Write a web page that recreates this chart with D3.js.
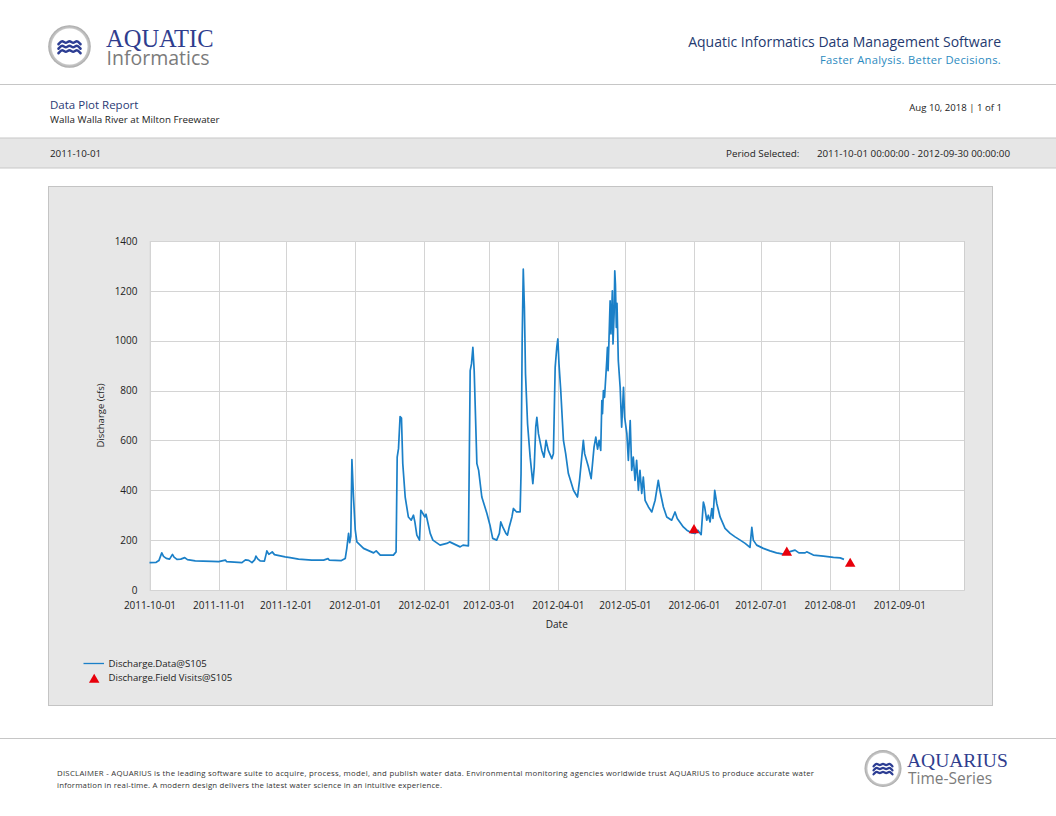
<!DOCTYPE html>
<html>
<head>
<meta charset="utf-8">
<script src="https://cdn.jsdelivr.net/npm/d3@7"></script>
<style>
  html, body { margin: 0; padding: 0; background: #ffffff; }
  svg { display: block; }
  text { font-family: "Open Sans", "Noto Sans", sans-serif; }
</style>
</head>
<body>
<script>
// ---------------- DATA ----------------
const dischargeSeries = [
  ["2011-10-01 00:00",110],["2011-10-04 00:00",111],["2011-10-05 05:00",118],["2011-10-06 12:00",149],
  ["2011-10-07 07:00",135],["2011-10-08 12:00",127],["2011-10-10 00:00",124],["2011-10-11 07:00",143],
  ["2011-10-12 00:00",132],["2011-10-13 07:00",123],["2011-10-15 00:00",124],["2011-10-16 19:00",130],
  ["2011-10-18 00:00",122],["2011-10-21 12:00",117],["2011-10-25 00:00",116],["2011-10-29 00:00",115],
  ["2011-11-01 00:00",114],["2011-11-04 00:00",120],["2011-11-04 12:00",114],["2011-11-08 00:00",112],
  ["2011-11-11 10:00",110],["2011-11-13 00:00",121],["2011-11-14 12:00",119],["2011-11-15 22:00",110],
  ["2011-11-17 05:00",122],["2011-11-17 17:00",136],["2011-11-18 12:00",125],["2011-11-19 14:00",117],
  ["2011-11-21 12:00",116],["2011-11-22 07:00",145],["2011-11-22 14:00",157],["2011-11-23 12:00",143],
  ["2011-11-25 00:00",153],["2011-11-26 00:00",142],["2011-11-27 00:00",140],["2011-11-30 19:00",133],
  ["2011-12-03 00:00",130],["2011-12-06 19:00",124],["2011-12-12 17:00",120],["2011-12-18 00:00",120],
  ["2011-12-20 00:00",126],["2011-12-20 12:00",120],["2011-12-26 00:00",118],["2011-12-27 17:00",126],
  ["2011-12-28 10:00",167],["2011-12-29 05:00",227],["2011-12-29 17:00",190],["2011-12-30 05:00",215],
  ["2011-12-30 17:00",523],["2011-12-31 10:00",373],["2012-01-01 05:00",240],["2012-01-01 22:00",193],
  ["2012-01-04 22:00",167],["2012-01-09 10:00",149],["2012-01-10 14:00",157],["2012-01-12 10:00",140],
  ["2012-01-18 07:00",140],["2012-01-19 12:00",153],["2012-01-20 00:00",533],["2012-01-20 14:00",567],
  ["2012-01-21 07:00",696],["2012-01-21 22:00",690],["2012-01-22 12:00",507],["2012-01-23 14:00",373],
  ["2012-01-25 00:00",293],["2012-01-26 07:00",280],["2012-01-27 07:00",300],["2012-01-27 22:00",273],
  ["2012-01-28 19:00",220],["2012-01-30 00:00",200],["2012-01-30 14:00",320],["2012-01-31 12:00",307],
  ["2012-02-01 10:00",293],["2012-02-01 22:00",304],["2012-02-03 19:00",227],["2012-02-05 00:00",200],
  ["2012-02-08 05:00",180],["2012-02-11 05:00",187],["2012-02-12 12:00",193],["2012-02-17 05:00",173],
  ["2012-02-18 12:00",180],["2012-02-20 22:00",177],["2012-02-21 17:00",880],["2012-02-22 07:00",907],
  ["2012-02-22 22:00",973],["2012-02-23 12:00",880],["2012-02-24 17:00",507],["2012-02-25 12:00",480],
  ["2012-02-26 22:00",373],["2012-02-29 05:00",307],["2012-03-01 14:00",260],["2012-03-02 19:00",207],
  ["2012-03-04 14:00",200],["2012-03-05 19:00",227],["2012-03-06 10:00",273],["2012-03-07 07:00",253],
  ["2012-03-08 17:00",227],["2012-03-09 10:00",220],["2012-03-10 05:00",253],["2012-03-11 10:00",293],
  ["2012-03-12 02:00",327],["2012-03-13 12:00",313],["2012-03-15 02:00",313],["2012-03-15 12:00",467],
  ["2012-03-16 00:00",1000],["2012-03-16 12:00",1287],["2012-03-17 00:00",1133],["2012-03-17 12:00",867],
  ["2012-03-18 10:00",667],["2012-03-19 14:00",533],["2012-03-20 19:00",427],["2012-03-21 10:00",493],
  ["2012-03-22 02:00",653],["2012-03-22 14:00",693],["2012-03-23 07:00",627],["2012-03-24 19:00",560],
  ["2012-03-25 19:00",533],["2012-03-26 17:00",600],["2012-03-27 17:00",560],["2012-03-29 07:00",527],
  ["2012-03-30 00:00",547],["2012-03-30 19:00",893],["2012-03-31 12:00",973],["2012-04-01 00:00",1007],
  ["2012-04-01 12:00",907],["2012-04-02 07:00",800],["2012-04-03 12:00",600],["2012-04-04 12:00",547],
  ["2012-04-05 17:00",467],["2012-04-08 00:00",400],["2012-04-09 19:00",373],["2012-04-10 17:00",440],
  ["2012-04-11 17:00",533],["2012-04-12 10:00",600],["2012-04-13 00:00",547],["2012-04-14 17:00",493],
  ["2012-04-15 22:00",447],["2012-04-17 05:00",573],["2012-04-18 00:00",613],["2012-04-18 19:00",565],
  ["2012-04-19 12:00",600],["2012-04-20 05:00",560],["2012-04-20 17:00",760],["2012-04-21 00:00",707],
  ["2012-04-21 10:00",800],["2012-04-21 22:00",773],["2012-04-22 22:00",920],["2012-04-23 05:00",973],
  ["2012-04-23 12:00",880],["2012-04-24 10:00",1160],["2012-04-24 19:00",1027],["2012-04-25 10:00",1200],
  ["2012-04-25 17:00",987],["2012-04-26 05:00",1107],["2012-04-26 12:00",1280],["2012-04-26 19:00",1227],
  ["2012-04-27 05:00",1053],["2012-04-27 12:00",1150],["2012-04-28 02:00",920],["2012-04-28 22:00",813],
  ["2012-04-29 14:00",653],["2012-04-30 10:00",813],["2012-04-30 22:00",693],["2012-05-01 22:00",627],
  ["2012-05-02 14:00",520],["2012-05-03 10:00",680],["2012-05-04 02:00",480],["2012-05-04 19:00",533],
  ["2012-05-05 14:00",440],["2012-05-06 07:00",520],["2012-05-07 02:00",400],["2012-05-07 19:00",480],
  ["2012-05-08 14:00",387],["2012-05-09 07:00",453],["2012-05-10 02:00",360],["2012-05-11 14:00",333],
  ["2012-05-13 02:00",313],["2012-05-14 14:00",360],["2012-05-16 00:00",440],["2012-05-16 17:00",400],
  ["2012-05-18 07:00",333],["2012-05-19 19:00",293],["2012-05-22 00:00",280],["2012-05-23 12:00",313],
  ["2012-05-24 12:00",287],["2012-05-27 05:00",253],["2012-05-28 19:00",240],["2012-05-31 00:00",229],
  ["2012-06-01 14:00",227],["2012-06-02 17:00",240],["2012-06-04 05:00",222],["2012-06-05 05:00",353],
  ["2012-06-05 19:00",333],["2012-06-06 17:00",280],["2012-06-07 10:00",300],["2012-06-08 05:00",273],
  ["2012-06-09 00:00",327],["2012-06-09 12:00",287],["2012-06-10 07:00",400],["2012-06-11 05:00",347],
  ["2012-06-12 17:00",293],["2012-06-14 22:00",247],["2012-06-17 05:00",227],["2012-06-19 10:00",213],
  ["2012-06-21 17:00",200],["2012-06-23 22:00",187],["2012-06-26 02:00",171],["2012-06-26 22:00",251],
  ["2012-06-27 14:00",200],["2012-06-29 02:00",180],["2012-07-02 02:00",167],["2012-07-05 02:00",157],
  ["2012-07-08 00:00",149],["2012-07-11 00:00",144],["2012-07-12 12:00",150],["2012-07-16 07:00",160],
  ["2012-07-18 00:00",149],["2012-07-20 19:00",149],["2012-07-21 12:00",153],["2012-07-24 12:00",140],
  ["2012-07-29 00:00",136],["2012-08-02 12:00",131],["2012-08-05 12:00",129],["2012-08-07 05:00",123]
];
const fieldVisitDates  = ["2012-06-01 00:00", "2012-07-12 14:00", "2012-08-10 00:00"];
const fieldVisitValues = [240, 150, 105];

const yTickValues = [0, 200, 400, 600, 800, 1000, 1200, 1400];
const xTickLabels = ["2011-10-01","2011-11-01","2011-12-01","2012-01-01","2012-02-01","2012-03-01",
                     "2012-04-01","2012-05-01","2012-06-01","2012-07-01","2012-08-01","2012-09-01"];
const periodStart = "2011-10-01 00:00";
const periodEnd   = "2012-09-30 00:00";
const legendLabels = ["Discharge.Data@S105", "Discharge.Field Visits@S105"];

// ---------------- DRAW ----------------
const W = 1056, H = 816;
const parseT = d3.timeParse("%Y-%m-%d %H:%M");
const parseD = d3.timeParse("%Y-%m-%d");
const svg = d3.select("body").append("svg").attr("width", W).attr("height", H);

const navy = "#2a3a75";

// logos
const ringGrad = svg.append("defs").append("radialGradient").attr("id","ring");
ringGrad.append("stop").attr("offset","80%").attr("stop-color","#d8d8d8");
ringGrad.append("stop").attr("offset","100%").attr("stop-color","#a9a9a9");
const waveLine = d3.line().curve(d3.curveBasis);
function wave(cx, cy, w, amp, n) {
  const pts = d3.range(0, n + 1).map(i => [cx - w/2 + i * w / n, cy + (i % 2 ? -amp : amp)]);
  return waveLine(pts);
}
function drawLogoMark(cx, cy, r, inner, ww, amp, sw, gap) {
  const g = svg.append("g").attr("transform", `translate(${cx},${cy})`);
  g.append("circle").attr("r", r).attr("fill", "url(#ring)");
  g.append("circle").attr("r", inner).attr("fill", "#ffffff");
  [-gap, 0, gap].forEach(dy => {
    g.append("path").attr("d", wave(0, dy, ww, amp, 6))
      .attr("fill", "none").attr("stroke", "#2c3d93").attr("stroke-width", sw).attr("stroke-linecap","round");
  });
}
drawLogoMark(69.5, 46.5, 21.3, 18, 22, 2.2, 2.6, 4.5);
const t1 = svg.append("text");
t1.append("tspan").attr("x", 106).attr("y", 47.3).style("font-family", "'Liberation Serif', serif")
  .attr("font-size", 24.5).attr("fill", "#2f3d8e").text("AQUATIC");
t1.append("tspan").attr("x", 106.5).attr("y", 64.7).attr("font-size", 19.5).attr("fill", "#7b7b7b").text("Informatics");

svg.append("text").attr("x", 1001).attr("y", 46.7).attr("text-anchor", "end").attr("font-size", 14)
  .attr("fill", "#253a70").text("Aquatic Informatics Data Management Software");
svg.append("text").attr("x", 1001).attr("y", 64).attr("text-anchor", "end").attr("font-size", 11.2)
  .attr("fill", "#2b8ac0").attr("letter-spacing", 0.3).text("Faster Analysis. Better Decisions.");

svg.append("line").attr("x1", 0).attr("x2", W).attr("y1", 84.5).attr("y2", 84.5)
  .attr("stroke", "#c6c6c6").attr("stroke-width", 1);

svg.append("text").attr("x", 50).attr("y", 109).attr("font-size", 11.5).attr("fill", navy).text("Data Plot Report");
svg.append("text").attr("x", 50).attr("y", 122.5).attr("font-size", 9.8).attr("fill", "#222").text("Walla Walla River at Milton Freewater");
svg.append("text").attr("x", 1002).attr("y", 111).attr("text-anchor", "end").attr("font-size", 9.6)
  .attr("fill", "#222").text("Aug 10, 2018 | 1 of 1");

// period band
svg.append("rect").attr("x", -1).attr("y", 138).attr("width", W + 2).attr("height", 30)
  .attr("fill", "#e6e6e6").attr("stroke", "#c8c8c8");
svg.append("text").attr("x", 50).attr("y", 156.5).attr("font-size", 9.8).attr("fill", "#222")
  .text(d3.timeFormat("%Y-%m-%d")(parseT(periodStart)));
svg.append("text").attr("x", 726).attr("y", 156.5).attr("font-size", 9.8).attr("fill", "#222").text("Period Selected:");
const fmtFull = d3.timeFormat("%Y-%m-%d %H:%M:%S");
svg.append("text").attr("x", 1010).attr("y", 156.5).attr("text-anchor", "end").attr("font-size", 9.8).attr("fill", "#222")
  .text(fmtFull(parseT(periodStart)) + " - " + fmtFull(parseT(periodEnd)));

// chart panel
svg.append("rect").attr("x", 48.5).attr("y", 186.5).attr("width", 944).attr("height", 519)
  .attr("fill", "#e7e7e7").attr("stroke", "#c4c4c4");

const plot = { left: 149.5, right: 964, top: 241, bottom: 590 };
const x = d3.scaleTime().domain([parseT(periodStart), parseT(periodEnd)]).range([plot.left, plot.right]);
const y = d3.scaleLinear().domain([0, 1400]).range([plot.bottom, plot.top]);

svg.append("rect").attr("x", plot.left).attr("y", plot.top)
  .attr("width", plot.right - plot.left).attr("height", plot.bottom - plot.top).attr("fill", "#ffffff");

// grid + axes
const xTickDates = xTickLabels.map(parseD);
const gx = svg.append("g").attr("transform", `translate(0,${plot.bottom})`)
  .call(d3.axisBottom(x).tickValues(xTickDates).tickFormat(d3.timeFormat("%Y-%m-%d"))
    .tickSize(-(plot.bottom - plot.top)).tickPadding(12));
gx.select(".domain").attr("stroke", "#cfcfcf");
gx.selectAll(".tick line").attr("stroke", "#d4d4d4").attr("shape-rendering", "crispEdges");
gx.selectAll(".tick text").attr("font-size", 10).attr("fill", "#222")
  .style("font-family", "'Open Sans', sans-serif");

const gy = svg.append("g").attr("transform", `translate(${plot.left},0)`)
  .call(d3.axisLeft(y).tickValues(yTickValues).tickFormat(d3.format("d"))
    .tickSize(-(plot.right - plot.left)).tickPadding(12));
gy.select(".domain").remove();
gy.selectAll(".tick line").attr("stroke", "#d4d4d4").attr("shape-rendering", "crispEdges");
gy.selectAll(".tick text").attr("font-size", 10).attr("fill", "#222")
  .style("font-family", "'Open Sans', sans-serif");

// axis titles
svg.append("text").attr("x", (plot.left + plot.right) / 2).attr("y", 628).attr("text-anchor", "middle")
  .attr("font-size", 10).attr("fill", "#222").text("Date");
svg.append("text").attr("transform", `translate(103.5,${(plot.top + plot.bottom) / 2}) rotate(-90)`)
  .attr("text-anchor", "middle").attr("font-size", 9.5).attr("fill", "#222").text("Discharge (cfs)");

// series
const lineColor = "#1b80c8";
const series = dischargeSeries.map(d => ({ t: parseT(d[0]), v: d[1] }));
const lineGen = d3.line().x(d => x(d.t)).y(d => y(d.v));
svg.append("path").datum(series).attr("d", lineGen).attr("fill", "none")
  .attr("stroke", lineColor).attr("stroke-width", 1.7).attr("stroke-linejoin", "round");

const visits = fieldVisitDates.map((d, i) => ({ t: parseT(d), v: fieldVisitValues[i] }));
const tri = d3.symbol().type(d3.symbolTriangle).size(48);
svg.selectAll("path.visit").data(visits).enter().append("path").attr("class", "visit")
  .attr("d", tri).attr("transform", d => `translate(${x(d.t)},${y(d.v)})`).attr("fill", "#e8000b");

// legend
svg.append("line").attr("x1", 83.5).attr("x2", 104).attr("y1", 663.5).attr("y2", 663.5)
  .attr("stroke", lineColor).attr("stroke-width", 1.3);
svg.append("text").attr("x", 108.5).attr("y", 667).attr("font-size", 9.6).attr("fill", "#222").text(legendLabels[0]);
svg.append("path").attr("d", tri).attr("transform", "translate(94.2,679.8)").attr("fill", "#e8000b");
svg.append("text").attr("x", 108.5).attr("y", 681).attr("font-size", 9.6).attr("fill", "#222").text(legendLabels[1]);

// footer
svg.append("line").attr("x1", 0).attr("x2", W).attr("y1", 738.5).attr("y2", 738.5)
  .attr("stroke", "#c6c6c6").attr("stroke-width", 1);
svg.append("text").attr("x", 57).attr("y", 776).attr("font-size", 7.8).attr("fill", "#333")
  .attr("textLength", 757).attr("lengthAdjust", "spacing")
  .text("DISCLAIMER - AQUARIUS is the leading software suite to acquire, process, model, and publish water data. Environmental monitoring agencies worldwide trust AQUARIUS to produce accurate water");
svg.append("text").attr("x", 57).attr("y", 788).attr("font-size", 7.8).attr("fill", "#333")
  .attr("textLength", 385).attr("lengthAdjust", "spacing")
  .text("information in real-time. A modern design delivers the latest water science in an intuitive experience.");

drawLogoMark(883, 768.5, 18.5, 15.5, 19, 1.9, 2.2, 4);
const t2 = svg.append("text");
t2.append("tspan").attr("x", 907).attr("y", 767).style("font-family", "'Liberation Serif', serif")
  .attr("font-size", 19.5).attr("fill", "#2f3d8e").text("AQUARIUS");
t2.append("tspan").attr("x", 908).attr("y", 783.5).attr("font-size", 15.5).attr("fill", "#7b7b7b").text("Time-Series");
</script>
</body>
</html>
